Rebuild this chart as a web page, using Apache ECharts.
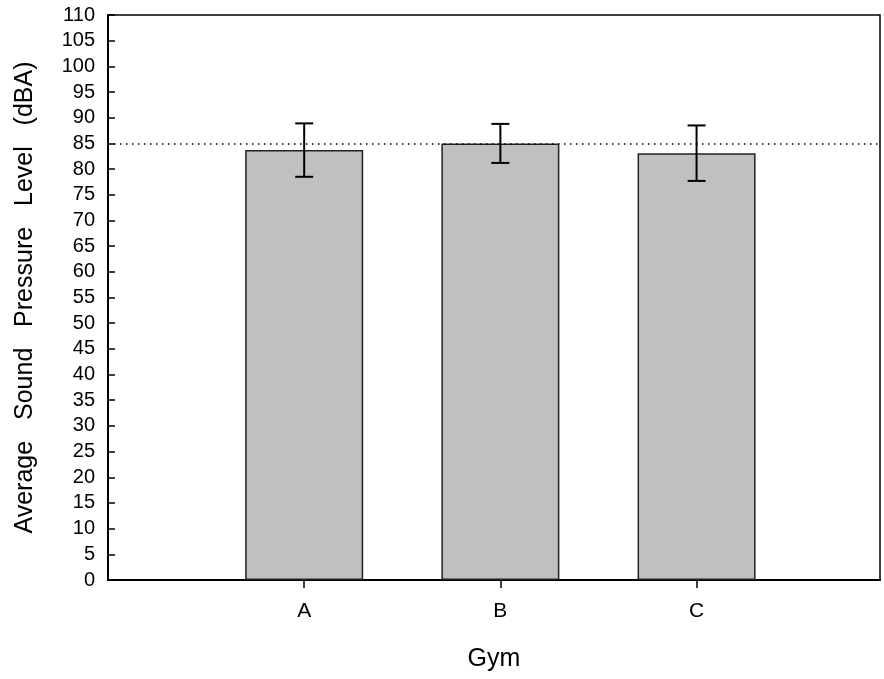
<!DOCTYPE html>
<html>
<head>
<meta charset="utf-8">
<script src="https://cdn.jsdelivr.net/npm/echarts@6/dist/echarts.min.js"></script>
<style>html,body{margin:0;padding:0;background:#fff;overflow:hidden;}#c{width:884px;height:679px;}</style>
</head>
<body>
<div id="c"></div>
<script>
const categories = ['A', 'B', 'C'];
const positions = [1, 2, 3];
const means = [83.7, 85.0, 83.1];
const errors = [5.2, 3.8, 5.4];
const referenceLevel = 85;
const yTicks = [0, 5, 10, 15, 20, 25, 30, 35, 40, 45, 50, 55, 60, 65, 70, 75, 80, 85, 90, 95, 100, 105, 110];

const chart = echarts.init(document.getElementById('c'), null, {renderer: 'canvas'});
const font = 'Liberation Sans, Arial, sans-serif';
const barData = positions.map((p, i) => [p, means[i]]);
const errData = positions.map((p, i) => [p, means[i] - errors[i], means[i] + errors[i]]);

chart.setOption({
  animation: false,
  grid: {left: 108, top: 15, width: 772, height: 565, show: true, borderColor: '#000', borderWidth: 1.5, backgroundColor: 'transparent'},
  xAxis: {
    type: 'value', min: 0, max: 3.935, interval: 1,
    name: 'Gym', nameLocation: 'middle', nameGap: 67,
    nameTextStyle: {fontFamily: font, fontSize: 25, color: '#000'},
    axisLine: {show: true, lineStyle: {color: '#000', width: 2}},
    axisTick: {show: true, inside: false, length: 8, lineStyle: {color: '#000', width: 1.5}, customValues: positions},
    axisLabel: {margin: 21, fontFamily: font, fontSize: 21, color: '#000', customValues: positions,
      formatter: v => categories[positions.indexOf(Math.round(v))] || ''},
    splitLine: {show: false}
  },
  yAxis: {
    type: 'value', min: yTicks[0], max: yTicks[yTicks.length - 1], interval: 5,
    name: 'Average   Sound   Pressure   Level   (dBA)', nameLocation: 'middle', nameGap: 70,
    nameTextStyle: {fontFamily: font, fontSize: 25, color: '#000'},
    axisLine: {show: true, lineStyle: {color: '#000', width: 2}},
    axisTick: {show: true, inside: true, length: 7, lineStyle: {color: '#000', width: 1.5}},
    axisLabel: {margin: 13, fontFamily: font, fontSize: 20, color: '#000'},
    splitLine: {show: false}
  },
  series: [
    {
      type: 'bar', data: barData, barWidth: 118,
      itemStyle: {color: '#c0c0c0', borderColor: '#222', borderWidth: 1.5},
      markLine: {
        silent: true, symbol: 'none', label: {show: false},
        lineStyle: {color: '#000', type: [1.5, 4.5], width: 1.5},
        data: [{yAxis: referenceLevel}]
      },
      z: 2
    },
    {
      type: 'custom', data: errData, z: 5,
      renderItem: function (params, api) {
        const x = api.coord([api.value(0), api.value(1)])[0];
        const yLo = api.coord([api.value(0), api.value(1)])[1];
        const yHi = api.coord([api.value(0), api.value(2)])[1];
        const hw = 9;
        const st = {stroke: '#000', lineWidth: 2};
        return {type: 'group', children: [
          {type: 'line', shape: {x1: x, y1: yLo, x2: x, y2: yHi}, style: st},
          {type: 'line', shape: {x1: x - hw, y1: yLo, x2: x + hw, y2: yLo}, style: st},
          {type: 'line', shape: {x1: x - hw, y1: yHi, x2: x + hw, y2: yHi}, style: st}
        ]};
      }
    }
  ]
});
</script>
</body>
</html>
